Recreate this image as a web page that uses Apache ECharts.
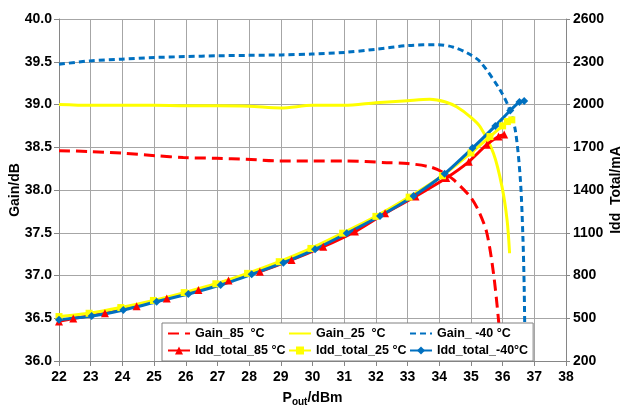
<!DOCTYPE html>
<html><head><meta charset="utf-8">
<script src="https://cdn.jsdelivr.net/npm/echarts@6/dist/echarts.min.js"></script>
<style>html,body{margin:0;padding:0;background:#fff}#c{width:622px;height:412px}</style>
</head><body><div id="c"></div>
<script>
const FONT = "'Liberation Sans',Arial,sans-serif";

const seriesNames = ['Gain_85 \u00B0C', 'Gain_25 \u00B0C', 'Gain_-40 \u00B0C', 'Idd_total_85 \u00B0C', 'Idd_total_25 \u00B0C', 'Idd_total_-40\u00B0C'];
const legendLabels = ['Gain_85  \u00B0C', 'Gain_25  \u00B0C', 'Gain_ -40 \u00B0C', 'Idd_total_85 \u00B0C', 'Idd_total_25 \u00B0C', 'Idd_total_-40\u00B0C'];

const xTicks = [22, 38, 1];
const gainTicks = [36, 40, 0.5];
const iddTicks = [200, 2600, 300];

const gain85X = [22, 22.97, 24.02, 25.08, 25.92, 26.97, 27.92, 28.97, 30.03, 31.0, 32.34, 33.0, 33.71, 34.1, 34.45, 34.98, 35.25, 35.5, 35.71, 35.87, 35.92];
const gain85Y = [38.46, 38.45, 38.43, 38.40, 38.38, 38.37, 38.36, 38.34, 38.34, 38.34, 38.32, 38.31, 38.27, 38.21, 38.12, 37.92, 37.75, 37.50, 37.03, 36.48, 36.22];

const gain25X = [22, 23, 24, 25, 26, 27, 28, 29, 30, 31, 32, 33, 33.7, 34.2, 34.56, 35.0, 35.29, 35.71, 35.98, 36.14, 36.22];
const gain25Y = [39.0, 38.99, 38.99, 38.99, 38.985, 38.985, 38.98, 38.96, 38.99, 38.99, 39.02, 39.045, 39.06, 39.03, 38.97, 38.85, 38.74, 38.43, 38.04, 37.65, 37.26];

const gainM40X = [22, 22.97, 23.97, 25.02, 25.97, 27.02, 27.97, 29.03, 29.97, 31.03, 31.98, 33.03, 33.97, 34.45, 34.9, 35.29, 35.92, 36.19, 36.40, 36.56, 36.64, 36.68, 36.70];
const gainM40Y = [39.47, 39.51, 39.53, 39.55, 39.56, 39.57, 39.575, 39.58, 39.59, 39.61, 39.645, 39.69, 39.70, 39.67, 39.6, 39.50, 39.17, 38.97, 38.70, 38.12, 37.45, 36.87, 36.33];

const idd85X = [22, 22.45, 23.45, 24.45, 25.4, 26.4, 27.35, 28.34, 29.34, 30.34, 31.34, 32.29, 33.25, 34.22, 34.93, 35.5, 35.87, 36.05];
const idd85Y = [478, 498, 535, 585, 638, 698, 765, 827, 909, 1002, 1108, 1237, 1355, 1484, 1598, 1718, 1775, 1790];

const idd25X = [22, 22.95, 23.95, 24.98, 25.95, 26.95, 27.95, 28.95, 29.95, 30.95, 32.0, 33.05, 34.1, 35.0, 35.6, 36.0, 36.15, 36.29];
const idd25Y = [512, 535, 575, 625, 680, 742, 815, 897, 990, 1097, 1215, 1350, 1500, 1660, 1775, 1850, 1880, 1892];

const iddM40X = [22, 23.03, 24.03, 25.08, 26.08, 27.1, 28.08, 29.08, 30.08, 31.08, 32.13, 33.19, 34.17, 35.05, 35.77, 36.24, 36.53, 36.68];
const iddM40Y = [490, 515, 558, 616, 670, 733, 808, 890, 984, 1096, 1218, 1358, 1514, 1694, 1850, 1958, 2018, 2024];

const zip = (xs, ys) => xs.map((x, i) => [x, ys[i]]);

const RED = '#ff0000', YEL = '#ffff00', BLUE = '#0070c0';
const axisLabel = {fontFamily: FONT, fontWeight: 'bold', fontSize: 14, color: '#000'};
const nameStyle = {fontFamily: FONT, fontWeight: 'bold', fontSize: 14, color: '#000'};
const splitLine = {show: true, lineStyle: {color: '#a6a6a6', width: 1}};
const axisLine = {show: true, lineStyle: {color: '#868686', width: 1}};

const chart = echarts.init(document.getElementById('c'), null, {renderer: 'canvas'});
chart.setOption({
  animation: false,
  backgroundColor: '#fff',
  grid: {left: 59, right: 56, top: 19, bottom: 51, containLabel: false, outerBoundsMode: 'none'},
  xAxis: {
    type: 'value', min: xTicks[0], max: xTicks[1], interval: xTicks[2],
    axisLine: axisLine, axisTick: {show: true, length: 5, lineStyle: {color: '#868686'}},
    axisLabel: Object.assign({margin: 9}, axisLabel),
    splitLine: splitLine,
    name: '{p|P}{s|out}{p|/dBm}', nameLocation: 'middle', nameGap: 28, nameMoveOverlap: false,
    nameTextStyle: {rich: {p: nameStyle, s: {fontFamily: FONT, fontWeight: 'bold', fontSize: 10, color: '#000', padding: [8, 0, 0, 0]}}}
  },
  yAxis: [{
    type: 'value', min: gainTicks[0], max: gainTicks[1], interval: gainTicks[2],
    axisLine: axisLine, axisTick: {show: true, length: 5, lineStyle: {color: '#868686'}},
    axisLabel: Object.assign({margin: 7, formatter: v => v.toFixed(1)}, axisLabel),
    splitLine: splitLine,
    name: 'Gain/dB', nameLocation: 'middle', nameGap: 37, nameRotate: 90, nameMoveOverlap: false, nameTextStyle: nameStyle
  }, {
    type: 'value', min: iddTicks[0], max: iddTicks[1], alignTicks: true, position: 'right',
    axisLine: axisLine, axisTick: {show: true, length: 4, lineStyle: {color: '#868686'}},
    axisLabel: Object.assign({margin: 7, formatter: v => String(v)}, axisLabel),
    splitLine: {show: false},
    name: 'Idd  Total/mA', nameLocation: 'middle', nameGap: 43, nameRotate: 90, nameMoveOverlap: false, nameTextStyle: nameStyle
  }],
  legend: {
    left: 162, top: 323, width: 380, padding: [2, 5, 2, 5], itemGap: 0,
    itemWidth: 22, itemHeight: 10,
    backgroundColor: '#fff', borderColor: '#808080', borderWidth: 1,
    textStyle: {fontFamily: FONT, fontWeight: 'bold', fontSize: 12.5, color: '#000', width: 93, lineHeight: 17},
    formatter: n => legendLabels[seriesNames.indexOf(n)],
    data: seriesNames.map((n, i) => {
      const d = {name: n, textStyle: i % 3 === 2 ? {width: 82} : {}};
      if (i < 3) d.itemStyle = {opacity: 0};
      return d;
    })
  },
  series: [
    {name: seriesNames[0], type: 'line', yAxisIndex: 0, data: zip(gain85X, gain85Y), symbol: 'none', smooth: 0.3,
     lineStyle: {color: RED, width: 3, type: [11, 6]}, itemStyle: {color: RED}},
    {name: seriesNames[1], type: 'line', yAxisIndex: 0, data: zip(gain25X, gain25Y), symbol: 'none', smooth: 0.3,
     lineStyle: {color: YEL, width: 3}, itemStyle: {color: YEL}},
    {name: seriesNames[2], type: 'line', yAxisIndex: 0, data: zip(gainM40X, gainM40Y), symbol: 'none', smooth: 0.3,
     lineStyle: {color: BLUE, width: 3, type: [6, 4]}, itemStyle: {color: BLUE}},
    {name: seriesNames[3], type: 'line', yAxisIndex: 1, data: zip(idd85X, idd85Y), symbol: 'triangle', symbolSize: 8, smooth: 0.2,
     lineStyle: {color: RED, width: 3}, itemStyle: {color: RED}},
    {name: seriesNames[4], type: 'line', yAxisIndex: 1, data: zip(idd25X, idd25Y), symbol: 'rect', symbolSize: 7, smooth: 0.2,
     lineStyle: {color: YEL, width: 3}, itemStyle: {color: YEL}},
    {name: seriesNames[5], type: 'line', yAxisIndex: 1, data: zip(iddM40X, iddM40Y), symbol: 'diamond', symbolSize: 8, smooth: 0.2,
     lineStyle: {color: BLUE, width: 3}, itemStyle: {color: BLUE}}
  ]
});
</script></body></html>
